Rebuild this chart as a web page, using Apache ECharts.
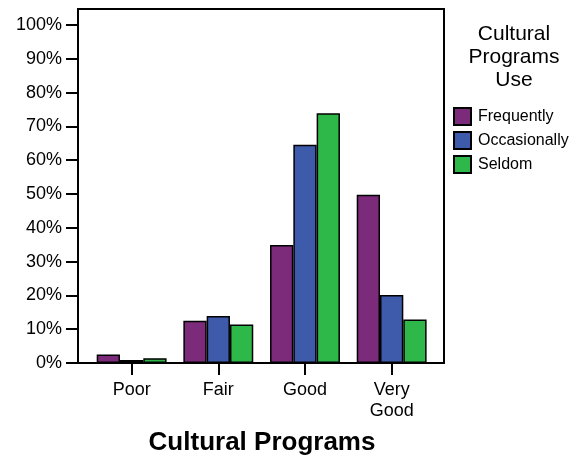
<!DOCTYPE html>
<html>
<head>
<meta charset="utf-8">
<script src="https://cdn.jsdelivr.net/npm/echarts@6/dist/echarts.min.js"></script>
<style>html,body{margin:0;padding:0;background:#fff}#c{width:584px;height:461px}</style>
</head>
<body>
<div id="c"></div>
<script>
const categories = ['Poor', 'Fair', 'Good', 'Very\nGood'];
const frequently = [2.5, 12.5, 34.9, 49.8];
const occasionally = [0.9, 13.9, 64.6, 20.1];
const seldom = [1.4, 11.4, 73.9, 12.9];
const seriesNames = ['Frequently', 'Occasionally', 'Seldom'];
const colors = ['#7c2a7a', '#3e5aab', '#2fb84a'];
const FONT = '"Liberation Sans", Arial, sans-serif';

const chart = echarts.init(document.getElementById('c'));
const values = [frequently, occasionally, seldom];
chart.setOption({
  animation: false,
  textStyle: { fontFamily: FONT },
  grid: [
    { left: 78, right: 140, top: 9, bottom: 98, show: true, borderColor: '#000', borderWidth: 2, backgroundColor: 'transparent' },
    { left: 88.3, width: 346.7, top: 25, bottom: 98 }
  ],
  xAxis: [
    { gridIndex: 0, type: 'value', show: false, min: 0, max: 1 },
    {
      gridIndex: 1, type: 'category', data: categories,
      axisLine: { show: false },
      axisTick: { show: true, alignWithLabel: true, length: 12, lineStyle: { color: '#000', width: 2 } },
      axisLabel: { color: '#000', fontSize: 18, lineHeight: 21, margin: 17, fontFamily: FONT }
    }
  ],
  yAxis: [
    { gridIndex: 0, type: 'value', show: false, min: 0, max: 1 },
    {
      gridIndex: 1, type: 'value', min: 0, max: 100, interval: 10, offset: 10.3,
      axisLine: { show: false },
      axisTick: { show: true, length: 12, lineStyle: { color: '#000', width: 2 } },
      splitLine: { show: false },
      axisLabel: { color: '#000', fontSize: 18, margin: 16, fontFamily: FONT, formatter: v => v + '%' }
    }
  ],
  legend: {
    orient: 'vertical', left: 453, top: 107, padding: 0, itemWidth: 17, itemHeight: 17, itemGap: 5,
    icon: 'rect',
    textStyle: { color: '#000', fontSize: 16, fontFamily: FONT, padding: [0, 0, 0, 2] },
    data: seriesNames
  },
  graphic: [
    { type: 'text', x: 514, y: 57, style: { text: 'Cultural\nPrograms\nUse', align: 'center', verticalAlign: 'middle', fontSize: 21, lineHeight: 23, fill: '#000', fontFamily: FONT } },
    { type: 'text', x: 262, y: 443, style: { text: 'Cultural Programs', align: 'center', verticalAlign: 'middle', fontSize: 26, fontWeight: 'bold', fill: '#000', fontFamily: FONT } }
  ],
  series: seriesNames.map((n, i) => ({
    name: n, type: 'bar', xAxisIndex: 1, yAxisIndex: 1,
    data: values[i], barWidth: 23.3, barGap: '0%',
    itemStyle: { color: colors[i], borderColor: '#000', borderWidth: 1.5 }
  }))
});
</script>
</body>
</html>
